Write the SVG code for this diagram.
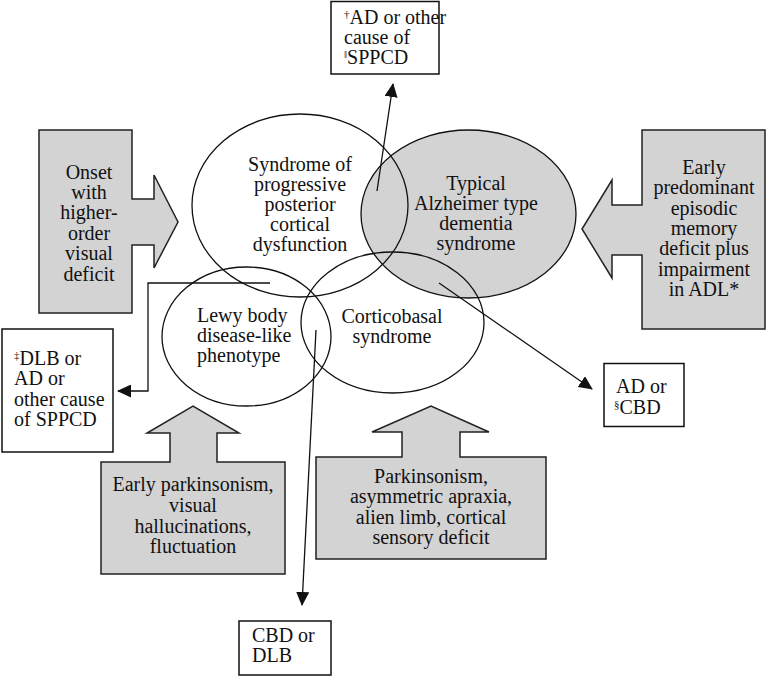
<svg xmlns="http://www.w3.org/2000/svg" width="768" height="680" viewBox="0 0 768 680" font-family="'Liberation Serif', 'DejaVu Serif', serif">
<defs>
<style>
text{font-family:'Liberation Serif','DejaVu Serif',serif;font-size:20px;fill:#111}
.c{text-anchor:middle}
.sup{font-size:11px}
.ell{fill:none;stroke:#111;stroke-width:1.3}
.gray{fill:#d3d3d3;stroke:#222;stroke-width:1.5}
.box{fill:#fff;stroke:#111;stroke-width:1.5}
.ln{fill:none;stroke:#111;stroke-width:1.3}
</style>
<marker id="ah" markerUnits="userSpaceOnUse" markerWidth="14" markerHeight="13" refX="13" refY="6.5" orient="auto">
<path d="M0,0 L14,6.5 L0,13 Z" fill="#111"/>
</marker>
</defs>
<rect width="768" height="680" fill="#fff"/>

<g id="alzheimer">
<ellipse cx="468.5" cy="214" rx="107.5" ry="84" fill="#d3d3d3" stroke="#111" stroke-width="1.3"/>
<text class="c" x="476" y="190">Typical</text>
<text class="c" x="476" y="210">Alzheimer type</text>
<text class="c" x="476" y="230">dementia</text>
<text class="c" x="476" y="250">syndrome</text>
</g>
<g id="sppcd">
<ellipse class="ell" cx="300" cy="205.5" rx="108" ry="91.5"/>
<text class="c" x="300" y="171">Syndrome of</text>
<text class="c" x="300" y="191">progressive</text>
<text class="c" x="300" y="211">posterior</text>
<text class="c" x="300" y="231">cortical</text>
<text class="c" x="300" y="251">dysfunction</text>
</g>
<g id="lewy">
<ellipse class="ell" cx="246.5" cy="336.5" rx="84.5" ry="69.5"/>
<text x="197" y="322">Lewy body</text>
<text x="197" y="342">disease-like</text>
<text x="197" y="362">phenotype</text>
</g>
<g id="corticobasal">
<ellipse class="ell" cx="392.5" cy="322.5" rx="91.5" ry="70.5"/>
<text class="c" x="392" y="323">Corticobasal</text>
<text class="c" x="392" y="343">syndrome</text>
</g>

<g id="onset-visual">
<path class="gray" d="M39,130 H132 V199 H154 V175 L178,222 L154,268 V245 H132 V313 H39 Z"/>
<text class="c" x="89" y="179">Onset</text>
<text class="c" x="89" y="199">with</text>
<text class="c" x="89" y="219">higher-</text>
<text class="c" x="89" y="240">order</text>
<text class="c" x="89" y="260">visual</text>
<text class="c" x="89" y="281">deficit</text>
</g>
<g id="early-memory">
<path class="gray" d="M765,130 V329 H642 V255 H612 V278 L582,229 L612,180 V205 H642 V130 Z"/>
<text class="c" x="704" y="174">Early</text>
<text class="c" x="704" y="194">predominant</text>
<text class="c" x="704" y="215">episodic</text>
<text class="c" x="704" y="235">memory</text>
<text class="c" x="704" y="255">deficit plus</text>
<text class="c" x="704" y="276">impairment</text>
<text class="c" x="704" y="296">in ADL*</text>
</g>
<g id="early-parkinsonism">
<path class="gray" d="M101,462 H170 V433 H147 L193,406 L239,433 H217 V462 H285 V574 H101 Z"/>
<text class="c" x="193" y="491">Early parkinsonism,</text>
<text class="c" x="193" y="512">visual</text>
<text class="c" x="193" y="533">hallucinations,</text>
<text class="c" x="193" y="553">fluctuation</text>
</g>
<g id="parkinsonism-apraxia">
<path class="gray" d="M316,457 H402 V432 H372 L431,406 L489,432 H460 V457 H546 V559 H316 Z"/>
<text class="c" x="431" y="483">Parkinsonism,</text>
<text class="c" x="431" y="503">asymmetric apraxia,</text>
<text class="c" x="431" y="524">alien limb, cortical</text>
<text class="c" x="431" y="544">sensory deficit</text>
</g>

<g id="out-top">
<rect class="box" x="331" y="1.5" width="108" height="72.5"/>
<text x="344" y="24"><tspan class="sup" dy="-6">†</tspan><tspan dy="6">AD or other</tspan></text>
<text x="344" y="44">cause of</text>
<text x="344" y="64"><tspan class="sup" dy="-6">‖</tspan><tspan dy="6">SPPCD</tspan></text>
</g>
<g id="out-left">
<rect class="box" x="2" y="329" width="111" height="123"/>
<text x="14" y="365"><tspan class="sup" dy="-6">‡</tspan><tspan dy="6">DLB or</tspan></text>
<text x="14" y="385">AD or</text>
<text x="14" y="406">other cause</text>
<text x="14" y="426">of SPPCD</text>
</g>
<g id="out-right">
<rect class="box" x="604" y="363.5" width="80" height="63"/>
<text x="616" y="393">AD or</text>
<text x="614" y="414"><tspan class="sup" dy="-6">§</tspan><tspan dy="6">CBD</tspan></text>
</g>
<g id="out-bottom">
<rect class="box" x="239" y="621" width="92" height="54"/>
<text x="252" y="642">CBD or</text>
<text x="252" y="662">DLB</text>
</g>

<g id="connectors">
<line class="ln" x1="377" y1="191" x2="393" y2="84" marker-end="url(#ah)"/>
<polyline class="ln" points="270,283 148,283 148,391 118,391" marker-end="url(#ah)"/>
<line class="ln" x1="439" y1="283" x2="592" y2="389" marker-end="url(#ah)"/>
<line class="ln" x1="316" y1="330" x2="302" y2="605" marker-end="url(#ah)"/>
</g>
</svg>
